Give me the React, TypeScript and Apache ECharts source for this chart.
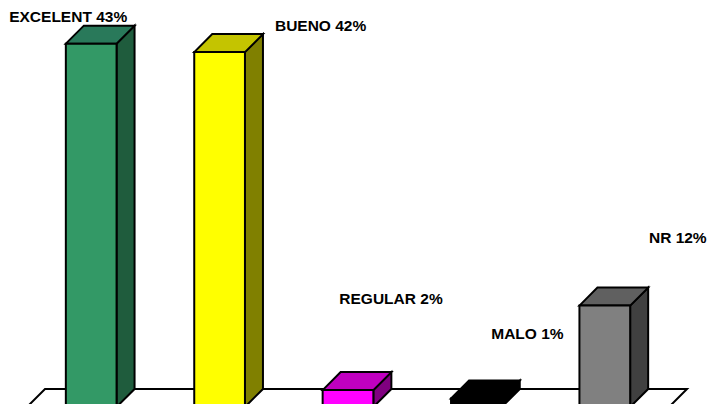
import React, { useEffect, useRef } from "react";
import * as echarts from "echarts";

const categories = ["EXCELENT", "BUENO", "REGULAR", "MALO", "NR"];
const values = [43, 42, 2, 1, 12];
const frontColors = ["#339966", "#ffff00", "#ff00ff", "#000000", "#808080"];
const topColors = ["#29795a", "#c4c400", "#c000c0", "#000000", "#606060"];
const sideColors = ["#1f5c3d", "#808000", "#800080", "#000000", "#404040"];
// label centre relative to the top-centre of each bar's front face
const labelDx = [-23, 101, 43, 51, 73];
const labelDy = [-27, -27, -92, -65, -68];

const DEPTH = 18;
const BAR_RATIO = 0.395;

export default function App() {
  const ref = useRef<HTMLDivElement>(null);
  useEffect(() => {
    document.body.style.margin = "0";
    const chart = echarts.init(ref.current!, null, { renderer: "svg" });
    const line = { stroke: "#000", lineWidth: 2, lineJoin: "miter" as const };
    chart.setOption({
      animation: false,
      backgroundColor: "#fff",
      grid: { left: 27, right: 38, top: 1.4, bottom: -3, outerBoundsMode: "none" },
      xAxis: { type: "category", data: categories, show: false },
      yAxis: { type: "value", min: 0, max: 48, show: false },
      series: [
        {
          type: "custom",
          coordinateSystem: "cartesian2d",
          z: 1,
          clip: false,
          silent: true,
          data: [[0, 0]],
          renderItem: (_p: any, api: any) => {
            const band = api.size([1, 0])[0];
            const l = api.coord([0, 0]);
            const r = api.coord([categories.length - 1, 0]);
            const x0 = l[0] - band / 2;
            const x1 = r[0] + band / 2;
            const y = l[1];
            return {
              type: "polygon",
              shape: {
                points: [
                  [x0, y],
                  [x0 + DEPTH, y - DEPTH],
                  [x1 + DEPTH, y - DEPTH],
                  [x1, y],
                ],
              },
              style: { fill: "#fff", ...line },
            };
          },
        },
        {
          type: "custom",
          coordinateSystem: "cartesian2d",
          z: 2,
          clip: false,
          silent: true,
          data: categories.map((_c, i) => [i, values[i]]),
          renderItem: (params: any, api: any) => {
            const i = params.dataIndex;
            const top = api.coord([api.value(0), api.value(1)]);
            const base = api.coord([api.value(0), 0]);
            const w = api.size([1, 0])[0] * BAR_RATIO;
            const xl = top[0] - w / 2;
            const xr = top[0] + w / 2;
            const yt = top[1];
            const yb = base[1];
            const poly = (points: number[][], fill: string) => ({
              type: "polygon",
              shape: { points },
              style: { fill, ...line },
            });
            return {
              type: "group",
              children: [
                poly(
                  [
                    [xr, yt],
                    [xr + DEPTH, yt - DEPTH],
                    [xr + DEPTH, yb - DEPTH],
                    [xr, yb],
                  ],
                  sideColors[i]
                ),
                poly(
                  [
                    [xl, yt],
                    [xl + DEPTH, yt - DEPTH],
                    [xr + DEPTH, yt - DEPTH],
                    [xr, yt],
                  ],
                  topColors[i]
                ),
                poly(
                  [
                    [xl, yt],
                    [xr, yt],
                    [xr, yb],
                    [xl, yb],
                  ],
                  frontColors[i]
                ),
                {
                  type: "text",
                  style: {
                    text: `${categories[i]} ${values[i]}%`,
                    x: top[0] + labelDx[i],
                    y: yt + labelDy[i],
                    align: "center",
                    verticalAlign: "middle",
                    fill: "#000",
                    font: "bold 15.5px 'Liberation Sans', Arial, sans-serif",
                  },
                },
              ],
            };
          },
        },
      ],
    });
    return () => chart.dispose();
  }, []);
  return <div ref={ref} style={{ width: 707, height: 404 }} />;
}
